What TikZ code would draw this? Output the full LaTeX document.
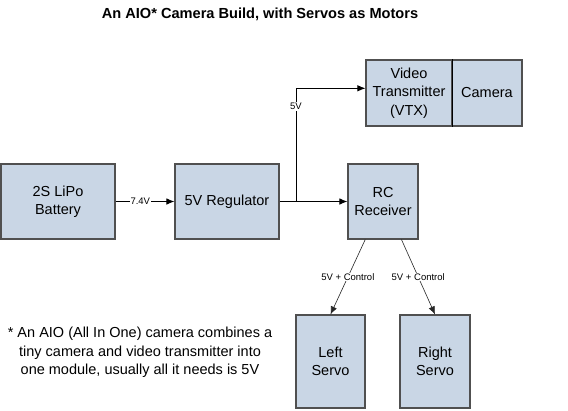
\documentclass[tikz,border=0pt]{standalone}
\usepackage{fontspec}
\setmainfont{Liberation Sans}
\usetikzlibrary{arrows.meta,calc}
\definecolor{boxfill}{HTML}{C9D6E5}
\definecolor{boxline}{HTML}{505050}
\tikzset{
  block/.style={draw=boxline, line width=1.1pt, fill=boxfill, align=center, inner sep=0pt,
    font=\fontsize{14.5}{18.5}\selectfont},
  wire/.style={line width=0.9pt, -{Latex[length=8pt,width=6.5pt]}},
  thinwire/.style={line width=0.6pt, draw=black!85, -{Latex[length=8pt,width=6.5pt]}},
  wirelabel/.style={fill=white, inner sep=1pt, font=\fontsize{9.5}{11}\selectfont}
}
\begin{document}
\begin{tikzpicture}[x=1pt, y=-1pt]
      \useasboundingbox [fill=white] (0,0) rectangle (568,410);

      \node [font=\bfseries\fontsize{14.6}{17}\selectfont] (title) at (260,14) {An AIO* Camera Build, with Servos as Motors};

      \node [block, minimum width=114pt, minimum height=75pt] (battery) at (58,201.5) {2S LiPo\\Battery};
      \node [block, minimum width=104pt, minimum height=75pt] (regulator) at (227,201.5) {5V Regulator};
      \node [block, minimum width=70pt, minimum height=75pt] (receiver) at (383,201.5) {RC\\Receiver};
      \node [block, minimum width=86pt, minimum height=66pt] (vtx) at (409,93) {Video\\Transmitter\\(VTX)};
      \node [block, minimum width=70pt, minimum height=66pt] (camera) at (487,93) {Camera};
      \draw [line width=1pt] (vtx.north east) -- (vtx.south east);
      \node [block, minimum width=69pt, minimum height=93pt] (leftservo) at (330.5,361.5) {Left\\Servo};
      \node [block, minimum width=70pt, minimum height=93pt] (rightservo) at (435,361.5) {Right\\Servo};

      \node [align=center, font=\fontsize{14.5}{18.5}\selectfont] (note) at (140,352.5)
        {* An AIO (All In One) camera combines a\\tiny camera and video transmitter into\\one module, usually all it needs is 5V};

      \coordinate (split) at (296,201.5);
      \coordinate (vtxin) at ($(vtx.north west)!0.43!(vtx.south west)$);
      \coordinate (rxleft) at ($(receiver.south west)!0.25!(receiver.south east)$);
      \coordinate (rxright) at ($(receiver.south west)!0.76!(receiver.south east)$);

      \draw [wire] (battery) -- node [wirelabel, pos=0.42] (lipovolts) {7.4V} (regulator);
      \draw [wire] (regulator) -- (receiver);
      \draw [wire] (split) |- node [wirelabel, pos=0.42] (vtxvolts) {5V} (vtxin);
      \draw [thinwire] (rxleft) -- node [wirelabel] (leftsignal) {5V + Control} (leftservo.north);
      \draw [thinwire] (rxright) -- node [wirelabel] (rightsignal) {5V + Control} (rightservo.north);

    \end{tikzpicture}
\end{document}
